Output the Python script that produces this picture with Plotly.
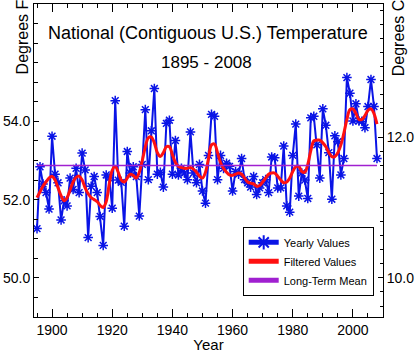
import plotly.graph_objects as go

years = list(range(1895, 2009))

yearly_f = [
    51.26, 52.84, 52.40, 52.18, 51.76,                                  # 1895-1899
    53.62, 52.65, 52.43, 51.48, 51.97, 51.84, 52.55, 52.26, 52.80, 52.18,  # 1900s
    53.19, 52.76, 51.03, 52.34, 52.59, 52.18, 51.57, 50.83, 52.63, 52.55,  # 1910s
    51.78, 54.53, 52.50, 52.44, 51.32, 53.23, 52.68, 52.84, 52.59, 51.58,  # 1920s
    52.90, 54.30, 52.51, 53.76, 54.84, 52.65, 52.70, 52.32, 53.95, 54.03,  # 1930s
    52.65, 53.51, 52.63, 52.80, 52.68, 52.51, 53.73, 52.68, 52.43, 52.90,  # 1940s
    52.22, 51.91, 53.13, 54.18, 54.13, 52.51, 53.13, 52.80, 52.93, 52.85,  # 1950s
    52.22, 52.72, 52.65, 53.05, 52.51, 52.43, 52.32, 52.59, 52.13, 52.30,  # 1960s
    52.43, 52.51, 52.18, 53.09, 53.07, 52.30, 52.30, 53.37, 51.84, 51.68,  # 1970s
    53.13, 53.93, 52.09, 52.68, 52.50, 52.03, 54.09, 54.13, 53.40, 52.55,  # 1980s
    54.32, 53.90, 53.20, 52.01, 53.63, 53.48, 52.63, 53.05, 55.12, 54.72,  # 1990s
    54.01, 54.45, 54.01, 54.00, 53.84, 54.38, 55.07, 54.38, 53.05,         # 2000-2008
]

filtered_f = [
    52.05, 52.20, 52.35, 52.45, 52.55,
    52.60, 52.50, 52.30, 52.10, 51.97, 52.05, 52.25, 52.45, 52.57, 52.60,
    52.50, 52.30, 52.15, 52.05, 52.00, 51.95, 51.85, 51.80, 51.95, 52.40,
    52.75, 52.85, 52.70, 52.50, 52.45, 52.55, 52.65, 52.62, 52.55, 52.70,
    53.00, 53.35, 53.58, 53.60, 53.45, 53.20, 53.10, 53.20, 53.35, 53.35,
    53.15, 52.95, 52.85, 52.82, 52.80, 52.80, 52.82, 52.78, 52.70, 52.60,
    52.55, 52.70, 53.05, 53.40, 53.42, 53.20, 52.95, 52.80, 52.70, 52.63,
    52.62, 52.65, 52.68, 52.65, 52.55, 52.45, 52.42, 52.40, 52.34, 52.36,
    52.45, 52.55, 52.65, 52.68, 52.68, 52.60, 52.50, 52.43, 52.45, 52.55,
    52.72, 52.84, 52.85, 52.72, 52.70, 52.90, 53.25, 53.50, 53.52, 53.52,
    53.45, 53.35, 53.20, 53.10, 53.10, 53.20, 53.40, 53.70, 54.05, 54.30,
    54.32, 54.20, 54.05, 54.05, 54.15, 54.28, 54.32, 54.20, 53.93,
]

long_term_mean_f = 52.87

x_ticks = [1900, 1920, 1940, 1960, 1980, 2000]
f_ticks = [50.0, 52.0, 54.0]
c_ticks = [10.0, 12.0]

f_range = [49.0, 57.0]
c_range = [(v - 32.0) / 1.8 for v in f_range]

FONT = "Liberation Sans, Arial, Helvetica, sans-serif"
BLUE = "#0a14e6"
RED = "#ff1010"
PURPLE = "#a020d0"

fig = go.Figure()

fig.add_trace(go.Scatter(
    x=years, y=yearly_f, mode="lines+markers", name="Yearly Values",
    line=dict(color=BLUE, width=2),
    marker=dict(symbol="asterisk-open", size=8, color=BLUE,
                line=dict(color=BLUE, width=1.5)),
))
fig.add_trace(go.Scatter(
    x=years, y=filtered_f, mode="lines", name="Filtered Values",
    line=dict(color=RED, width=3, shape="spline", smoothing=1.0),
))
fig.add_trace(go.Scatter(
    x=[years[0], years[-1]], y=[long_term_mean_f, long_term_mean_f],
    mode="lines", name="Long-Term Mean",
    line=dict(color=PURPLE, width=1.5),
))
# invisible trace to anchor the Celsius axis
fig.add_trace(go.Scatter(
    x=[years[0], years[-1]],
    y=[(long_term_mean_f - 32) / 1.8] * 2,
    yaxis="y2", mode="lines", line=dict(width=0, color="rgba(0,0,0,0)"),
    showlegend=False, hoverinfo="skip",
))

fig.update_layout(
    width=417, height=353,
    margin=dict(l=33, r=33, t=3, b=31),
    paper_bgcolor="white", plot_bgcolor="white",
    font=dict(family=FONT, size=14, color="black"),
    showlegend=True,
    legend=dict(
        x=0.598, y=0.288, xanchor="left", yanchor="top",
        bgcolor="white", bordercolor="black", borderwidth=1,
        font=dict(family=FONT, size=11, color="black"),
        tracegroupgap=0, itemsizing="constant",
    ),
    xaxis=dict(
        range=[1894, 2010], tickvals=x_ticks, ticks="inside", ticklen=8,
        tickcolor="black", tickwidth=1,
        showline=True, linecolor="black", linewidth=1, mirror="ticks",
        showgrid=False, zeroline=False,
        minor=dict(dtick=5, tick0=1895, ticks="inside", ticklen=4,
                   tickcolor="black", showgrid=False),
        title=dict(text="Year", font=dict(size=15), standoff=2),
        tickfont=dict(size=14),
    ),
    yaxis=dict(
        range=f_range, tickvals=f_ticks, tickformat=".1f", ticks="inside",
        ticklen=5, tickcolor="black",
        showline=True, linecolor="black", linewidth=1,
        showgrid=False, zeroline=False,
        minor=dict(dtick=0.5, tick0=49, ticks="inside", ticklen=4,
                   tickcolor="black", showgrid=False),
        tickfont=dict(size=14),
    ),
    yaxis2=dict(
        range=c_range, tickvals=c_ticks, tickformat=".1f", ticks="inside",
        ticklen=5, tickcolor="black", overlaying="y", side="right",
        showline=True, linecolor="black", linewidth=1,
        showgrid=False, zeroline=False,
        minor=dict(dtick=0.2, tick0=9.4, ticks="inside", ticklen=3,
                   tickcolor="black", showgrid=False),
        tickfont=dict(size=14),
    ),
    annotations=[
        dict(text="National (Contiguous U.S.) Temperature", xref="paper",
             yref="paper", x=0.498, y=(322 - 33) / 319.0, xanchor="center",
             yanchor="middle", showarrow=False, font=dict(size=18)),
        dict(text="1895 - 2008", xref="paper", yref="paper",
             x=(206 - 33) / 351.0, y=(322 - 63) / 319.0, xanchor="center",
             yanchor="middle", showarrow=False, font=dict(size=17)),
        dict(text="Degrees F", xref="paper", yref="paper",
             x=(21 - 33) / 351.0, y=(322 - 37) / 319.0, xanchor="center",
             yanchor="middle", textangle=-90, showarrow=False,
             font=dict(size=16)),
        dict(text="Degrees C", xref="paper", yref="paper",
             x=(399 - 33) / 351.0, y=(322 - 38) / 319.0, xanchor="center",
             yanchor="middle", textangle=-90, showarrow=False,
             font=dict(size=16)),
    ],
)

fig.write_html("out.html")
